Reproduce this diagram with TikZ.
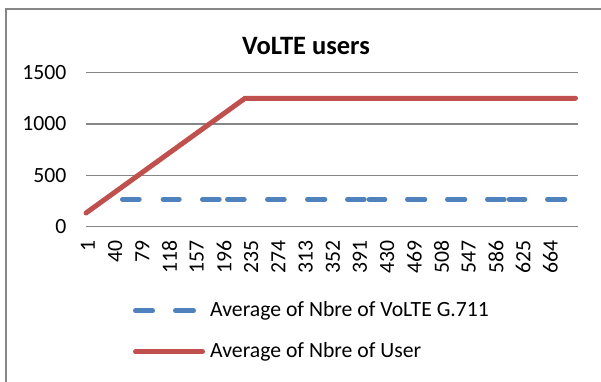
\documentclass[tikz,border=0pt]{standalone}
\usepackage{fontspec}
\setmainfont{Carlito}
\definecolor{redl}{HTML}{C0504D}
\definecolor{bluel}{HTML}{4F81BD}
\definecolor{gridc}{HTML}{868686}
\begin{document}
\begin{tikzpicture}[x=1pt,y=-1pt,
  lab/.style={inner sep=0pt,font=\fontsize{21.7}{26}\selectfont},
  ylab/.style={lab,anchor=east},
  xlab/.style={lab,anchor=east,rotate=90},
  gridline/.style={gridc,line width=1.5pt},
  redser/.style={redl,line width=5pt,line cap=round,line join=round},
  blueser/.style={bluel,line width=5pt,line cap=round}]
\useasboundingbox (0,0) rectangle (601,381);
\clip (0,0) rectangle (601,381);
\fill[white] (0,0) rectangle (601,381);
\draw[gridc,line width=1.5pt] (6,400) -- (6,9) -- (620,9);
% title
\node[inner sep=0pt,anchor=base,font=\bfseries\fontsize{26.5}{31}\selectfont] (title) at (306,54) {VoLTE users};
% gridlines and y labels
\foreach \v/\y in {1500/72.7,1000/124,500/175.3,0/226.7}{
  \draw[gridline] (86,\y) -- (578,\y);
  \node[ylab] (y\v) at (66.5,\y) {\v};
}
% x labels
\foreach \v [count=\i from 0] in {1,40,79,118,157,196,235,274,313,352,391,430,469,508,547,586,625,664}
  \node[xlab] (x\v) at ({88+27.2*\i},240.5) {\v};
% blue series
\foreach \a/\b in {120/141.7,160.7/181.7,200/221.7,225/246.7,265/286.7,305/327.3,345/366.7,366.7/387.3,405/427.3,445/467.3,485/506.7,506.7/527.3,545/567.3}
  \draw[blueser] ({\a+2.5},199.3) -- ({\b-2.5},199.3);
% red series
\coordinate (r0) at (86,213);
\coordinate (r1) at (245,98.3);
\coordinate (r2) at (575.5,98.3);
\draw[redser] (r0) -- (r1) -- (r2);
% legend
\coordinate (b1) at (135.5,310.7);
\coordinate (b2) at (152.5,310.7);
\coordinate (b3) at (175.5,310.7);
\coordinate (b4) at (193.5,310.7);
\draw[blueser] (b1) -- (b2);
\draw[blueser] (b3) -- (b4);
\node[lab,anchor=west] (legb) at (210,310.7) {Average of Nbre of VoLTE G.711};
\coordinate (c1) at (135.5,351.7);
\coordinate (c2) at (202.5,351.7);
\draw[redser] (c1) -- (c2);
\node[lab,anchor=west] (legr) at (210,351.7) {Average of Nbre of User};
\end{tikzpicture}
\end{document}
